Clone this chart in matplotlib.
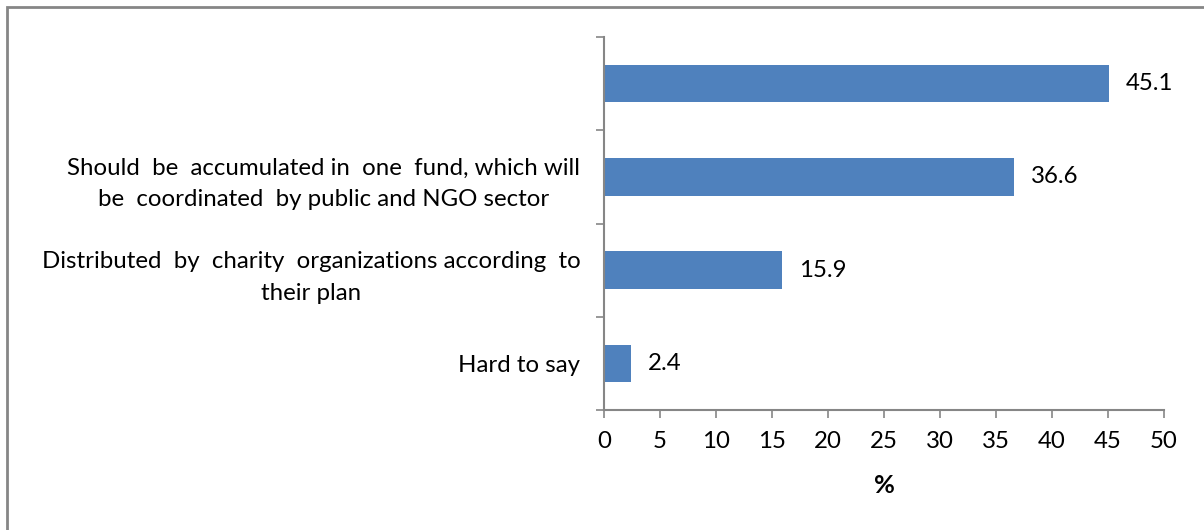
import matplotlib
matplotlib.use("Agg")
from matplotlib import pyplot
from matplotlib.patches import Rectangle
import numpy as np

# categories bottom to top
categories = ["Hard to say",
              "Distributed  by  charity  organizations according  to\ntheir plan",
              "Should  be  accumulated in  one  fund, which will\nbe  coordinated  by public and NGO sector",
              ""]
values = [2.4, 15.9, 36.6, 45.1]
xticks = list(range(0, 51, 5))

pyplot.rcParams['font.family'] = ['Lato', 'DejaVu Sans']
GRAY = '#868686'
BLUE = '#4F81BD'
FS = 17.3

fig = pyplot.figure(figsize=(12.04, 5.30), dpi=100)
ax = fig.add_axes([604/1204, 1-410/530, 560/1204, 373/530])

pos = np.arange(len(categories))
bars = ax.barh(pos, values, height=0.4, color=BLUE)

for y, v in zip(pos, values):
    ax.annotate(str(v), (v, y), xytext=(12, 0), textcoords='offset points',
                va='center', ha='left', fontsize=FS, color='black')

ax.set_xlim(0, 50)
ax.set_ylim(-0.5, len(categories) - 0.5)
ax.set_xticks(xticks)
ax.set_xticklabels([str(t) for t in xticks], fontsize=FS)
ax.set_yticks(pos)
ax.set_yticklabels(categories, fontsize=FS, multialignment='center',
                   linespacing=1.62)
ax.set_yticks(np.arange(-0.5, len(categories), 1), minor=True)
ax.tick_params(axis='y', which='major', length=0, pad=17)
ax.tick_params(axis='y', which='minor', length=6, width=1.2, color=GRAY)
ax.tick_params(axis='x', length=6, width=1.2, color=GRAY, pad=9)

for side in ['top', 'right']:
    ax.spines[side].set_visible(False)
for side in ['left', 'bottom']:
    ax.spines[side].set_color(GRAY)
    ax.spines[side].set_linewidth(1.5)

ax.set_xlabel('%', fontsize=FS + 1, fontweight='bold', labelpad=16)

# outer chart frame
fig.patches.append(Rectangle((7/1204, -0.1), 1.2, 1 - 7/530 + 0.1,
                             transform=fig.transFigure, fill=False,
                             edgecolor=GRAY, linewidth=2))

fig.savefig('out.png', dpi=100)
